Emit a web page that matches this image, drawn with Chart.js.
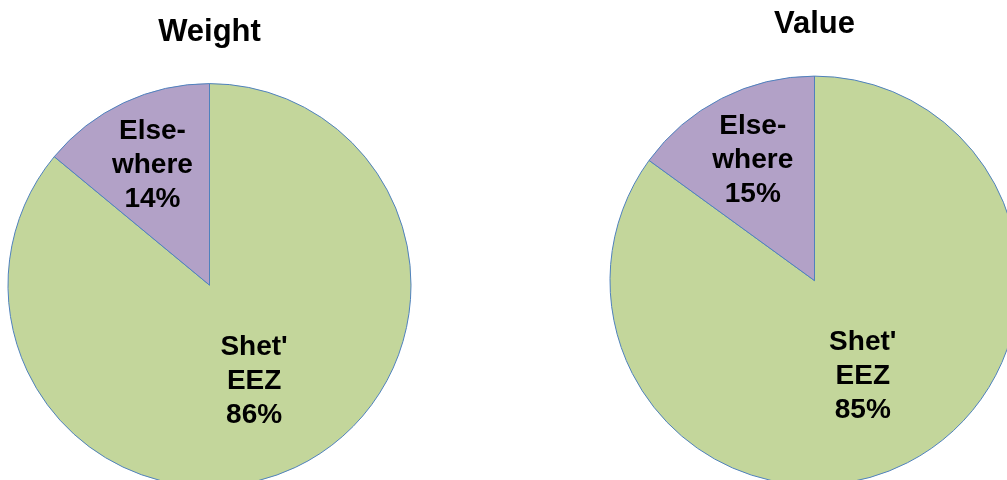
<!DOCTYPE html>
<html>
<head>
<meta charset="utf-8">
<script src="https://cdn.jsdelivr.net/npm/chart.js@4/dist/chart.umd.min.js"></script>
<style>
    html, body { margin: 0; padding: 0; background: #fff; overflow: hidden; width: 1007px; height: 480px; }
    .box { position: absolute; top: 0; }
</style>
</head>
<body>
<div class="box" style="left:0px"><canvas id="weightChart" width="419" height="519"></canvas></div>
<div class="box" style="left:604px"><canvas id="valueChart" width="421" height="518"></canvas></div>
<script>
// slice names (split in lines the way the labels wrap)
const categories = ["Shet' EEZ", "Elsewhere"];
const labelLines = [["Shet'", "EEZ"], ["Else-", "where"]];
// percent shares
const weightValues = [86, 14];
const valueValues = [85, 15];

const sliceColors = ["#C3D69B", "#B2A1C7"];
const labelDistance = [0.52, 0.665]; // fraction of the radius

// Draws the text inside each slice
const sliceLabels = {
    id: "sliceLabels",
    afterDatasetsDraw(chart) {
        const ctx = chart.ctx;
        const meta = chart.getDatasetMeta(0);
        const data = chart.data.datasets[0].data;
        ctx.save();
        ctx.font = "bold 28px 'Liberation Sans', Arial, sans-serif";
        ctx.fillStyle = "#000";
        ctx.textAlign = "center";
        ctx.textBaseline = "middle";
        meta.data.forEach((arc, i) => {
            const p = arc.getProps(["x", "y", "startAngle", "endAngle", "outerRadius"], true);
            const mid = (p.startAngle + p.endAngle) / 2;
            const d = p.outerRadius * labelDistance[i];
            const cx = p.x + Math.cos(mid) * d;
            const cy = p.y + Math.sin(mid) * d + 1;
            const lines = labelLines[i].concat([data[i] + "%"]);
            const lh = 34;
            lines.forEach((t, k) => {
                ctx.fillText(t, cx, cy + (k - (lines.length - 1) / 2) * lh);
            });
        });
        ctx.restore();
    }
};

function makePie(id, title, values, radius, titleTop) {
    const ctx = document.getElementById(id).getContext("2d");
    return new Chart(ctx, {
        type: "pie",
        data: {
            labels: categories,
            datasets: [{
                data: values,
                backgroundColor: sliceColors,
                borderColor: "#4F81BD",
                borderWidth: 1,
                radius: radius,
            }],
        },
        options: {
            responsive: false,
            animation: false,
            devicePixelRatio: 1,
            layout: { padding: 0 },
            plugins: {
                legend: { display: false },
                tooltip: { enabled: false },
                title: {
                    display: true,
                    text: title,
                    color: "#000",
                    font: { family: "'Liberation Sans', Arial, sans-serif", size: 31, weight: "bold", lineHeight: 1.2 },
                    padding: { top: titleTop, bottom: 0 },
                },
            },
        },
        plugins: [sliceLabels],
    });
}

makePie("weightChart", "Weight", weightValues, 201.5, 14);
makePie("valueChart", "Value", valueValues, 204.5, 6);
</script>
</body>
</html>
